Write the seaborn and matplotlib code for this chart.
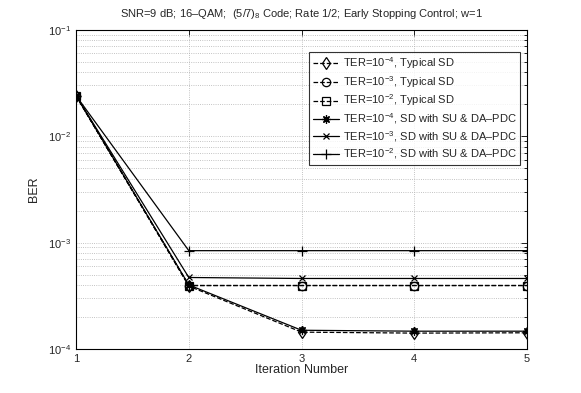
import numpy as np
import pandas as pd
import matplotlib
matplotlib.use("Agg")
import matplotlib.pyplot as plt
import seaborn as sns

iterations = [1, 2, 3, 4, 5]
typ_ter4 = [0.024, 3.9e-4, 1.44e-4, 1.41e-4, 1.42e-4]
typ_ter3 = [0.024, 3.95e-4, 3.95e-4, 3.95e-4, 3.95e-4]
typ_ter2 = [0.024, 3.95e-4, 3.95e-4, 3.95e-4, 3.95e-4]
su_ter4 = [0.024, 4.0e-4, 1.5e-4, 1.47e-4, 1.47e-4]
su_ter3 = [0.024, 4.7e-4, 4.6e-4, 4.6e-4, 4.6e-4]
su_ter2 = [0.024, 8.4e-4, 8.4e-4, 8.4e-4, 8.4e-4]

labels = [
    r"TER=10$^{-4}$, Typical SD",
    r"TER=10$^{-3}$, Typical SD",
    r"TER=10$^{-2}$, Typical SD",
    r"TER=10$^{-4}$, SD with SU & DA–PDC",
    r"TER=10$^{-3}$, SD with SU & DA–PDC",
    r"TER=10$^{-2}$, SD with SU & DA–PDC",
]
series = [typ_ter4, typ_ter3, typ_ter2, su_ter4, su_ter3, su_ter2]
markers = ["d", "o", "s", (8, 2, 0), "x", "+"]
msizes = [6.5, 6, 5.5, 6, 4.5, 6.5]
dashed = [True, True, True, False, False, False]

sns.set_theme(style="white")
plt.rcParams["font.family"] = ["Liberation Sans", "DejaVu Sans"]
plt.rcParams["mathtext.fontset"] = "custom"
plt.rcParams["mathtext.rm"] = "Liberation Sans"
plt.rcParams["mathtext.it"] = "Liberation Sans:italic"

fig = plt.figure(figsize=(5.81, 3.93), dpi=100)
ax = fig.add_axes([0.131, 0.112, 0.776, 0.812])

for y, lab, mk, ms, ds in zip(series, labels, markers, msizes, dashed):
    df = pd.DataFrame({"Iteration": iterations, "BER": y})
    kw = dict(dashes=(4, 3)) if ds else {}
    sns.lineplot(data=df, x="Iteration", y="BER", ax=ax, color="black",
                 marker=mk, markersize=ms, markerfacecolor="none",
                 markeredgecolor="black", markeredgewidth=0.9,
                 linewidth=0.9, label=lab,
                 linestyle="--" if ds else "-", **kw)
ax.set_yscale("log")
ax.set_xlim(1, 5)
ax.set_ylim(1e-4, 1e-1)
ax.set_xticks(iterations)
ax.set_xlabel("Iteration Number", fontsize=9, labelpad=0)
ax.set_ylabel("BER", fontsize=9, labelpad=6)
ax.set_title("SNR=9 dB; 16–QAM;  (5/7)$_8$ Code; Rate 1/2; Early Stopping Control; w=1",
             fontsize=8, pad=9)
ax.grid(True, which="major", axis="both", linestyle=":", color="#b0b0b0", linewidth=0.6)
ax.grid(True, which="minor", axis="y", linestyle=":", color="#b0b0b0", linewidth=0.6)
ax.tick_params(which="both", direction="in", top=True, right=True, labelsize=8,
               length=4, width=0.6, color="black")
ax.tick_params(which="minor", length=2)
for s in ax.spines.values():
    s.set_color("black")
    s.set_linewidth(0.8)

leg = ax.legend(loc="upper right", bbox_to_anchor=(0.985, 0.932), borderaxespad=0,
                fontsize=8, frameon=True, fancybox=False, edgecolor="black",
                handlelength=2.4, labelspacing=0.25, handletextpad=0.3,
                borderpad=0.35)
leg.get_frame().set_linewidth(0.8)

fig.savefig("out.png", dpi=100)
